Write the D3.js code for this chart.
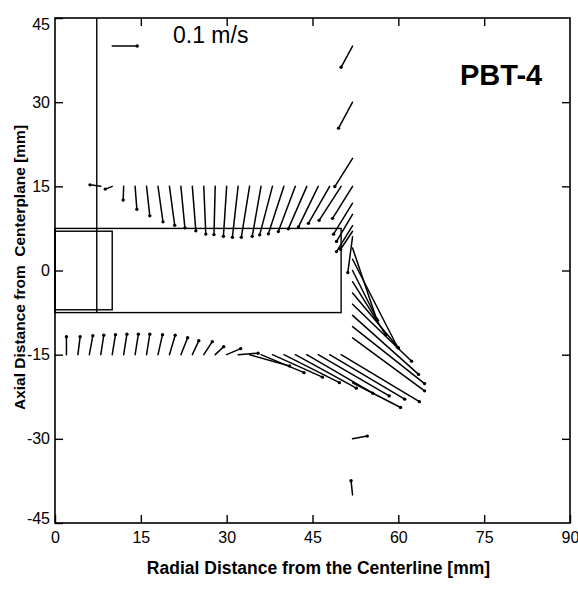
<!DOCTYPE html>
<html>
<head>
<meta charset="utf-8">
<script src="https://cdn.jsdelivr.net/npm/d3@7"></script>
<style>
  body { margin: 0; background: #fff; }
  svg { display: block; }
</style>
</head>
<body>
<svg id="chart" width="578" height="589"></svg>
<script>
// Axis ticks (mm)
const xTicks = [0, 15, 30, 45, 60, 75, 90];
const yTicks = [45, 30, 15, 0, -15, -30, -45];

// Row of measurement points above the disk, z = 15 mm (velocities in m/s)
const upperRowX = [8, 10, 12, 14, 16, 18, 20, 22, 24, 26, 28, 30, 32, 34, 36, 38, 40, 42, 44, 46, 48, 50];
const upperRowU = [-0.043, -0.028, -0.002, 0.007, 0.013, 0.020, 0.021, 0.016, 0.014, 0.008, -0.005, -0.013,
                   -0.023, -0.033, -0.035, -0.051, -0.062, -0.068, -0.074, -0.079, -0.085, -0.088];
const upperRowV = [0.006, -0.011, -0.055, -0.092, -0.118, -0.142, -0.156, -0.166, -0.178, -0.191, -0.193, -0.200,
                   -0.204, -0.204, -0.200, -0.194, -0.190, -0.181, -0.170, -0.162, -0.148, -0.136];

// Row of measurement points below the disk, z = -15 mm
const lowerRowX = [2, 4, 6, 8, 10, 12, 14, 16, 18, 20, 22, 24, 26, 28, 30, 32, 34, 36, 38, 40, 42, 44, 46, 48, 50];
const lowerRowU = [0.000, 0.009, 0.014, 0.012, 0.013, 0.013, 0.013, 0.013, 0.018, 0.023, 0.027, 0.026, 0.034,
                   0.034, 0.056, 0.080, 0.160, 0.172, 0.200, 0.222, 0.244, 0.264, 0.284, 0.300, 0.313];
const lowerRowV = [0.072, 0.072, 0.076, 0.078, 0.080, 0.082, 0.082, 0.082, 0.080, 0.078, 0.068, 0.056, 0.052,
                   0.032, 0.024, 0.006, -0.045, -0.072, -0.090, -0.112, -0.134, -0.154, -0.165, -0.178, -0.188];

// Column of measurement points just outside the disk tip, r = 52 mm
const tipColumnY = [40, 30, 20, 15, 12, 10, 8, 7, 6, 4, 2, 0, -2, -4, -6, -8, -10, -12, -20, -30, -40];
const tipColumnU = [-0.046, -0.056, -0.071, -0.080, -0.076, -0.064, -0.064, -0.048, -0.019, 0.096, 0.180, 0.100,
                    0.132, 0.184, 0.236, 0.264, 0.288, 0.288, 0.192, 0.059, -0.006];
const tipColumnV = [-0.085, -0.104, -0.113, -0.128, -0.124, -0.108, -0.104, -0.072, -0.143, -0.284, -0.352, -0.200,
                    -0.212, -0.220, -0.228, -0.236, -0.228, -0.212, -0.099, 0.011, 0.057];
const tipColumnX = 52;

// Reference vector
const refVector = { x: 10, y: 40, u: 0.1, v: 0, label: "0.1 m/s" };

// Disk, hub and shaft outlines (mm)
const disk = { r0: 0, r1: 50, z0: -7.5, z1: 7.5 };
const hub = { r0: 0, r1: 10, z0: -7, z1: 7 };
const shaft = { r: 7.3, z0: -7.5, z1: 45 };

const svg = d3.select("#chart");
const plotL = 55, plotR = 570, plotT = 18, plotB = 523;

const x = d3.scaleLinear().domain([0, 90]).range([plotL, plotR]);
const y = d3.scaleLinear().domain([-45, 45]).range([plotB, plotT]);
// length on paper of a velocity vector
const speed = d3.scaleLinear().domain([0, 0.1]).range([0, 25]);

const font = "'Liberation Sans', Arial, Helvetica, sans-serif";

// assemble vectors
const vectors = [];
upperRowX.forEach((r, i) => vectors.push({ r, z: 15, u: upperRowU[i], v: upperRowV[i] }));
lowerRowX.forEach((r, i) => vectors.push({ r, z: -15, u: lowerRowU[i], v: lowerRowV[i] }));
tipColumnY.forEach((z, i) => vectors.push({ r: tipColumnX, z, u: tipColumnU[i], v: tipColumnV[i] }));

// frame
svg.append("rect")
  .attr("x", plotL).attr("y", plotT)
  .attr("width", plotR - plotL).attr("height", plotB - plotT)
  .attr("fill", "none").attr("stroke", "#000").attr("stroke-width", 1.6);

// axes with inward ticks
const tickLen = 8;
const plain = d => String(d);
const gx = svg.append("g").attr("transform", `translate(0,${plotB})`)
  .call(d3.axisBottom(x).tickValues(xTicks).tickSizeInner(-tickLen).tickSizeOuter(0).tickPadding(9).tickFormat(plain));
const gy = svg.append("g").attr("transform", `translate(${plotL},0)`)
  .call(d3.axisLeft(y).tickValues(yTicks).tickSizeInner(-tickLen).tickSizeOuter(0).tickPadding(5).tickFormat(plain));
const gt = svg.append("g").attr("transform", `translate(0,${plotT})`)
  .call(d3.axisTop(x).tickValues(xTicks.slice(1, -1)).tickSizeInner(-tickLen).tickSizeOuter(0).tickFormat(""));
const gr = svg.append("g").attr("transform", `translate(${plotR},0)`)
  .call(d3.axisRight(y).tickValues(yTicks.slice(1, -1)).tickSizeInner(-tickLen).tickSizeOuter(0).tickFormat(""));

[gx, gy, gt, gr].forEach(g => {
  g.select(".domain").remove();
  g.selectAll(".tick line").attr("stroke", "#000").attr("stroke-width", 1.4);
  g.selectAll("text").attr("font-family", font).attr("font-size", 16).attr("fill", "#000");
});
// keep the end labels of the vertical axis inside the frame height
gy.selectAll(".tick text").attr("dy", d => d === 45 ? "0.72em" : d === -45 ? "0em" : "0.32em");

// axis titles
svg.append("text")
  .attr("x", (plotL + plotR) / 2 + 6).attr("y", 574)
  .attr("text-anchor", "middle")
  .attr("font-family", font).attr("font-weight", "bold").attr("font-size", 17.5)
  .text("Radial Distance from the Centerline [mm]");
svg.append("text")
  .attr("transform", `translate(25,${(plotT + plotB) / 2 - 3}) rotate(-90)`)
  .attr("text-anchor", "middle")
  .attr("font-family", font).attr("font-weight", "bold").attr("font-size", 15.5)
  .style("white-space", "pre")
  .text("Axial Distance from  Centerplane [mm]");

// case label
svg.append("text")
  .attr("x", 460).attr("y", 85)
  .attr("font-family", font).attr("font-weight", "bold").attr("font-size", 29)
  .text("PBT-4");

// disk, hub, shaft
const outline = svg.append("g").attr("fill", "none").attr("stroke", "#000").attr("stroke-width", 1.4);
outline.append("rect")
  .attr("x", x(disk.r0)).attr("y", y(disk.z1))
  .attr("width", x(disk.r1) - x(disk.r0)).attr("height", y(disk.z0) - y(disk.z1));
outline.append("rect")
  .attr("x", x(hub.r0)).attr("y", y(hub.z1))
  .attr("width", x(hub.r1) - x(hub.r0)).attr("height", y(hub.z0) - y(hub.z1));
outline.append("line")
  .attr("x1", x(shaft.r)).attr("x2", x(shaft.r))
  .attr("y1", y(shaft.z1)).attr("y2", y(shaft.z0));

// velocity vectors: line from the measurement point, dot at the head
function drawVectors(g, data) {
  g.selectAll("line").data(data).join("line")
    .attr("x1", d => x(d.r)).attr("y1", d => y(d.z))
    .attr("x2", d => x(d.r) + speed(d.u)).attr("y2", d => y(d.z) - speed(d.v))
    .attr("stroke", "#000").attr("stroke-width", 1.5).attr("stroke-linecap", "round");
  g.selectAll("circle").data(data).join("circle")
    .attr("cx", d => x(d.r) + speed(d.u)).attr("cy", d => y(d.z) - speed(d.v))
    .attr("r", 1.7).attr("fill", "#000");
}
drawVectors(svg.append("g").attr("class", "vectors"), vectors);

// reference vector and its label
const refG = svg.append("g").attr("class", "reference");
drawVectors(refG, [{ r: refVector.x, z: refVector.y, u: refVector.u, v: refVector.v }]);
svg.append("text")
  .attr("x", 173).attr("y", 43)
  .attr("font-family", font).attr("font-size", 23)
  .text(refVector.label);
</script>
</body>
</html>
